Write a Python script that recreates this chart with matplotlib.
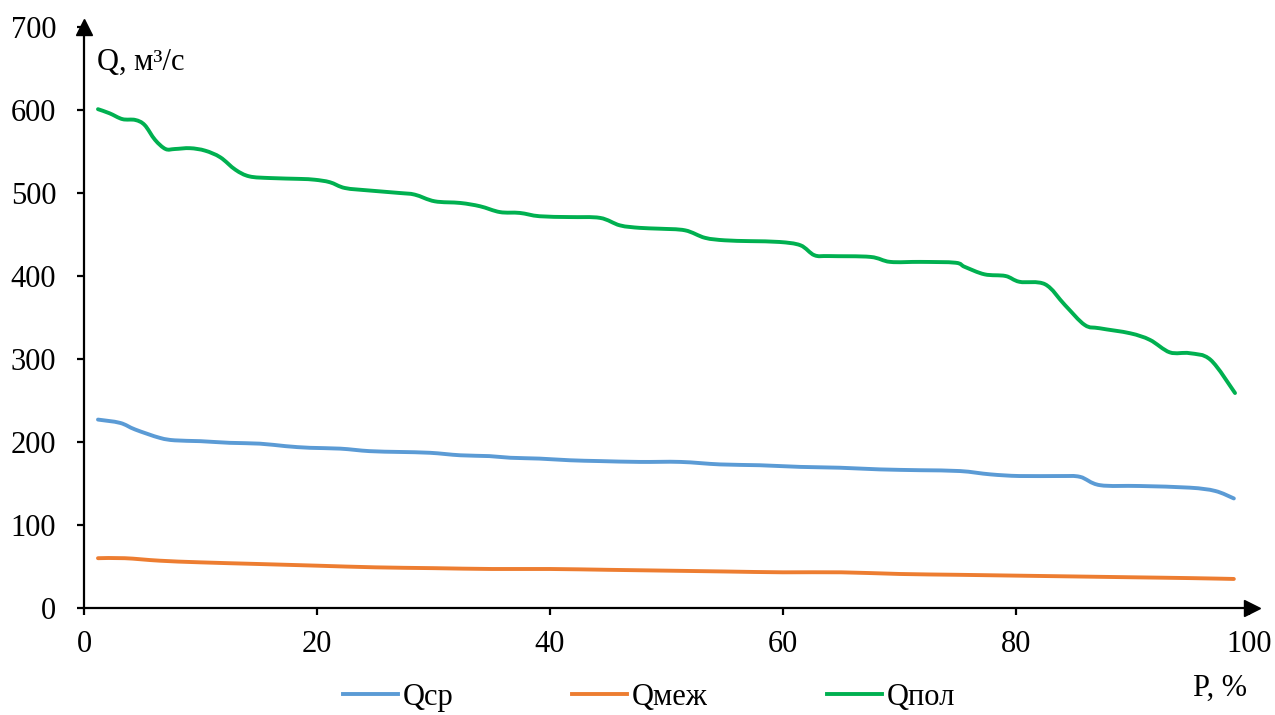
import matplotlib.pyplot as plt
from matplotlib.path import Path
from matplotlib.patches import PathPatch
from matplotlib.lines import Line2D

plt.rcParams['font.family'] = ['Liberation Serif', 'DejaVu Serif']

# обеспеченность, % и расходы, м3/с
p_pol = [1.2, 2.2, 3.3, 4.4, 5.2, 6.1, 7.0, 7.8, 9.1, 10.4, 11.7, 13.0, 14.2, 16.0, 18.5,
         19.8, 21.1, 22.4, 24.5, 27.1, 28.4, 30.1, 32.3, 34.0, 35.7, 37.4, 39.1, 41.7, 44.3,
         46.0, 47.7, 49.4, 51.6, 53.3, 55.0, 57.2, 59.7, 61.5, 62.7, 64.0, 67.5, 69.2, 71.8,
         74.8, 75.6, 77.3, 79.1, 80.3, 82.5, 84.2, 85.9, 87.2, 89.8, 91.5, 93.2, 94.9, 96.7, 98.8]
q_pol = [601, 596, 589, 588, 582, 564, 553, 553, 554, 551, 543, 528, 520, 518, 517,
         516, 513, 506, 503, 500, 498, 490, 488, 484, 477, 476, 472, 471, 470,
         461, 458, 457, 455, 446, 443, 442, 441, 437, 425, 424, 423, 417, 417,
         416, 411, 402, 400, 393, 390, 365, 341, 337, 331, 323, 308, 307, 299, 259]

p_sr = [1.2, 3.1, 4.4, 6.5, 7.8, 10.0, 12.5, 15.1, 17.3, 19.4, 22.0, 24.5, 27.1, 29.7,
        32.3, 34.8, 36.6, 39.1, 41.7, 44.3, 47.7, 51.2, 54.6, 58.0, 61.5, 64.9, 68.3,
        71.8, 75.2, 77.8, 80.3, 83.8, 85.5, 87.2, 90.6, 94.9, 97.1, 98.7]
q_sr = [227, 223, 215, 205, 202, 201, 199, 198, 195, 193, 192, 189, 188, 187,
        184, 183, 181, 180, 178, 177, 176, 176, 173, 172, 170, 169, 167,
        166, 165, 161, 159, 159, 158, 148, 147, 145, 141, 132]

p_mezh = [1.2, 3.5, 6.5, 10, 15, 20, 25, 30, 35, 40, 45, 50, 55, 60, 65, 70, 75, 80,
          85, 90, 95, 98.7]
q_mezh = [60, 60, 57, 55, 53, 51, 49, 48, 47, 47, 46, 45, 44, 43, 43, 41, 40, 39,
          38, 37, 36, 35]

series = [(p_sr, q_sr, '#5B9BD5', 'Qср'),
          (p_mezh, q_mezh, '#ED7D31', 'Qмеж'),
          (p_pol, q_pol, '#00B050', 'Qпол')]


def smooth_path(x, y):
    # сглаженная линия как в Excel (кривые Безье через точки)
    pts = list(zip(x, y))
    n = len(pts)
    verts = [pts[0]]
    codes = [Path.MOVETO]
    for i in range(n - 1):
        p0 = pts[max(i - 1, 0)]
        p1 = pts[i]
        p2 = pts[i + 1]
        p3 = pts[min(i + 2, n - 1)]
        c1 = (p1[0] + (p2[0] - p0[0]) / 6, p1[1] + (p2[1] - p0[1]) / 6)
        c2 = (p2[0] - (p3[0] - p1[0]) / 6, p2[1] - (p3[1] - p1[1]) / 6)
        verts += [c1, c2, p2]
        codes += [Path.CURVE4] * 3
    return Path(verts, codes)


fig = plt.figure(figsize=(12.75, 7.15), dpi=100)
ax = fig.add_axes([84/1275, 1-608/715, (1249-84)/1275, (608-27)/715])

lw = 2.8
handles = []
for x, y, c, name in series:
    ax.add_patch(PathPatch(smooth_path(x, y), fill=False, edgecolor=c, lw=lw,
                           capstyle='round', joinstyle='round'))
    handles.append(Line2D([], [], color=c, lw=lw, label=name))

ax.set_xlim(0, 100)
ax.set_ylim(0, 700)
ax.set_xticks(range(0, 101, 20))
ax.set_yticks(range(0, 701, 100))
for s in ['top', 'right']:
    ax.spines[s].set_visible(False)
for s in ['left', 'bottom']:
    ax.spines[s].set_linewidth(1.6)
ax.tick_params(direction='out', length=5, width=1.6, labelsize=22)
ax.tick_params(axis='y', pad=15)
ax.tick_params(axis='x', pad=11)

# стрелки осей
ax.plot([1.003], [0], marker='>', color='k', ms=11, transform=ax.transAxes, clip_on=False)
ax.plot([0], [1.0], marker='^', color='k', ms=11, transform=ax.transAxes, clip_on=False)

ax.text(0.011, 0.94, 'Q, м³/с', transform=ax.transAxes, fontsize=22, va='center', ha='left')
fig.text(1220/1275, 1-688/715, 'P, %', fontsize=22, ha='center', va='center')

fig.legend(handles=handles, loc='center', bbox_to_anchor=(649/1275, 1-697/715), ncol=3,
           frameon=False, fontsize=22, handlelength=1.8, handletextpad=0.15, columnspacing=3.9)

fig.savefig('out.png', dpi=100)
